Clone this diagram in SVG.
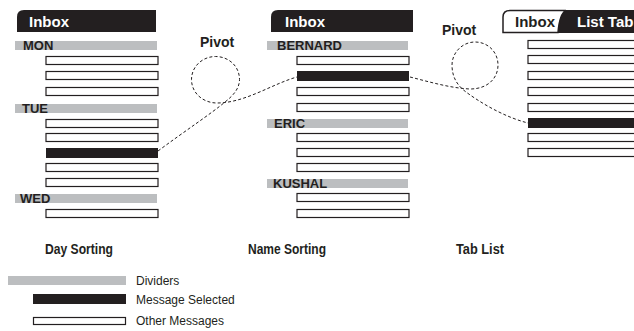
<svg xmlns="http://www.w3.org/2000/svg" width="634" height="331" viewBox="0 0 634 331">
<style>
.bg{fill:#ffffff}
.hdr{fill:#231f20}
.div{fill:#bcbec0}
.msg{fill:#ffffff;stroke:#231f20;stroke-width:1.2}
.sel{fill:#231f20}
.t{font-family:"Liberation Sans",Arial,sans-serif;font-weight:bold}
.ht{font-size:15px;fill:#ffffff}
.dt{font-size:13px;fill:#231f20}
.pv{font-size:14px;fill:#231f20}
.cap{font-size:14px;fill:#231f20}
.lg{font-family:"Liberation Sans",Arial,sans-serif;font-size:12px;fill:#231f20}
.dash{fill:none;stroke:#231f20;stroke-width:1;stroke-dasharray:3 2.2}
</style>
<rect class="bg" x="0" y="0" width="634" height="331"/>

<g id="day-sorting">
  <path class="hdr" d="M17,32 V17 Q17,10 24,10 H156 V32 Z"/>
  <text class="t ht" x="29" y="27">Inbox</text>
  <rect class="div" x="15" y="41" width="142" height="9"/>
  <text class="t dt" x="23" y="50">MON</text>
  <rect class="msg" x="46" y="56.5" width="112" height="8"/>
  <rect class="msg" x="46" y="71.5" width="112" height="8"/>
  <rect class="msg" x="46" y="87.5" width="112" height="8"/>
  <rect class="div" x="15" y="104" width="142" height="9"/>
  <text class="t dt" x="22" y="113">TUE</text>
  <rect class="msg" x="46" y="119.5" width="112" height="8"/>
  <rect class="msg" x="46" y="133.5" width="112" height="8"/>
  <rect class="sel" x="46" y="148" width="112" height="10"/>
  <rect class="msg" x="46" y="163.5" width="112" height="8"/>
  <rect class="msg" x="46" y="178.5" width="112" height="8"/>
  <rect class="div" x="15" y="194" width="142" height="9"/>
  <text class="t dt" x="20" y="203">WED</text>
  <rect class="msg" x="46" y="209.5" width="112" height="8"/>
  <text class="t cap" x="45" y="254" textLength="68" lengthAdjust="spacingAndGlyphs">Day Sorting</text>
</g>

<g id="name-sorting">
  <path class="hdr" d="M271,32 V17 Q271,10 278,10 H413 V32 Z"/>
  <text class="t ht" x="285" y="27">Inbox</text>
  <rect class="div" x="267" y="41" width="141" height="9"/>
  <text class="t dt" x="277" y="50">BERNARD</text>
  <rect class="msg" x="297" y="56.5" width="112" height="8"/>
  <rect class="sel" x="297" y="71" width="112" height="10"/>
  <rect class="msg" x="297" y="87.5" width="112" height="8"/>
  <rect class="msg" x="297" y="103.5" width="112" height="8"/>
  <rect class="div" x="267" y="119" width="141" height="9"/>
  <text class="t dt" x="274" y="128">ERIC</text>
  <rect class="msg" x="297" y="133.5" width="112" height="8"/>
  <rect class="msg" x="297" y="148.5" width="112" height="8"/>
  <rect class="msg" x="297" y="163.5" width="112" height="8"/>
  <rect class="div" x="267" y="179" width="141" height="9"/>
  <text class="t dt" x="273" y="188">KUSHAL</text>
  <rect class="msg" x="297" y="193.5" width="112" height="8"/>
  <rect class="msg" x="297" y="209.5" width="112" height="8"/>
  <text class="t cap" x="248" y="254" textLength="78" lengthAdjust="spacingAndGlyphs">Name Sorting</text>
</g>

<g id="tab-list">
  <rect class="hdr" x="556" y="10" width="80" height="23"/>
  <path d="M503,32.5 V17 Q503,10.5 510,10.5 H566 C561,13 559,21 558,32.5 Z" fill="#ffffff" stroke="#231f20" stroke-width="1.5"/>
  <text class="t" x="515" y="27" style="font-size:15px;fill:#231f20">Inbox</text>
  <text class="t ht" x="577" y="27">List Tab</text>
  <rect class="msg" x="528" y="40.5" width="112" height="8"/>
  <rect class="msg" x="528" y="55.5" width="112" height="8"/>
  <rect class="msg" x="528" y="71.5" width="112" height="8"/>
  <rect class="msg" x="528" y="87.5" width="112" height="8"/>
  <rect class="msg" x="528" y="103.5" width="112" height="8"/>
  <rect class="sel" x="528" y="118" width="112" height="10"/>
  <rect class="msg" x="528" y="133.5" width="112" height="8"/>
  <rect class="msg" x="528" y="148.5" width="112" height="8"/>
  <text class="t cap" x="456" y="254" textLength="48" lengthAdjust="spacingAndGlyphs">Tab List</text>
</g>

<g id="connectors">
  <path class="dash" d="M158,151 C185,131 212,113 225,102 C234,95 239.5,88 239.5,79.5 C239.5,66 228.5,56.5 215.5,56.5 C202.5,56.5 191.5,66.5 191.5,79.5 C191.5,93 203,103 217,103 C245,103 272,84 297,77"/>
  <path class="dash" d="M410,77 C430,82 450,88 470,89 C488,89 498,78 498,65 C498,52 488,42 475,42 C462,42 452,53 452,65 C452,78 458,86 466,92 C485,106 508,118 528,123"/>
</g>

<g id="pivot-labels">
  <text class="t pv" x="200" y="47">Pivot</text>
  <text class="t pv" x="442" y="35">Pivot</text>
</g>

<g id="legend">
  <g id="legend-dividers">
    <rect class="div" x="8" y="276" width="118" height="9"/>
    <text class="lg" x="136" y="285">Dividers</text>
  </g>
  <g id="legend-selected">
    <rect class="sel" x="33" y="294" width="93" height="10"/>
    <text class="lg" x="136" y="304">Message Selected</text>
  </g>
  <g id="legend-other">
    <rect class="msg" x="33.5" y="317.5" width="92" height="7"/>
    <text class="lg" x="136" y="325">Other Messages</text>
  </g>
</g>
</svg>
